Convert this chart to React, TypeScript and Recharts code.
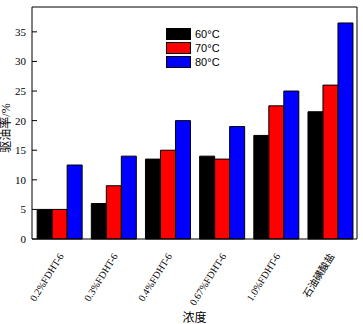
import { Bar, BarChart, Label, XAxis, YAxis } from "recharts";

// concentrations on the x axis
const categories = [
  "0.2%FDHT-6",
  "0.3%FDHT-6",
  "0.4%FDHT-6",
  "0.67%FDHT-6",
  "1.0%FDHT-6",
  "石油磺酸盐",
];
const temp60 = [5, 6, 13.5, 14, 17.5, 21.5];
const temp70 = [5, 9, 15, 13.5, 22.5, 26];
const temp80 = [12.5, 14, 20, 19, 25, 36.5];
const yTicks = [0, 5, 10, 15, 20, 25, 30, 35];

const series = [
  { key: "t60", name: "60°C", color: "#000000" },
  { key: "t70", name: "70°C", color: "#ff0000" },
  { key: "t80", name: "80°C", color: "#0000ff" },
];

const data = categories.map((name, i) => ({
  name,
  t60: temp60[i],
  t70: temp70[i],
  t80: temp80[i],
}));

const FONT = "'Liberation Serif', 'Noto Sans CJK SC', serif";

function YTick(props: any) {
  const { x, y, payload } = props;
  return (
    <g>
      <line x1={x + 5} x2={x + 10} y1={y} y2={y} stroke="#000" />
      <text
        x={x - 1}
        y={y}
        dy={4}
        textAnchor="end"
        fontSize={11}
        fontFamily={FONT}
        fill="#000"
      >
        {payload.value}
      </text>
    </g>
  );
}

function XTick(props: any) {
  const { x, y, payload } = props;
  return (
    <text
      x={x + 5}
      y={y + 9}
      textAnchor="end"
      fontSize={10}
      fontFamily={FONT}
      fill="#000"
      transform={`rotate(-58 ${x + 5} ${y + 9})`}
    >
      {payload.value}
    </text>
  );
}

function YLabel(props: any) {
  const { viewBox } = props;
  const cx = 10;
  const cy = viewBox.y + viewBox.height / 2 + 5;
  return (
    <text
      x={cx}
      y={cy}
      textAnchor="middle"
      fontSize={12}
      fontFamily={FONT}
      fill="#000"
      transform={`rotate(-90 ${cx} ${cy})`}
    >
      驱油率/%
    </text>
  );
}

function LegendBox() {
  return (
    <div
      style={{
        position: "absolute",
        left: 166,
        top: 27,
        fontFamily: "'Liberation Sans', sans-serif",
        fontSize: 11,
      }}
    >
      {series.map((s) => (
        <div
          key={s.key}
          style={{ display: "flex", alignItems: "center", height: 14 }}
        >
          <span
            style={{
              width: 23,
              height: 10,
              background: s.color,
              border: "1px solid #000",
              marginRight: 4,
            }}
          />
          <span>{s.name}</span>
        </div>
      ))}
    </div>
  );
}

export default function App() {
  return (
    <div style={{ position: "absolute", left: 0, top: 0, background: "#fff" }}>
      <BarChart
        width={363}
        height={324}
        data={data}
        margin={{ top: 6, right: 5, left: 0, bottom: 0 }}
        barCategoryGap="9.5%"
        barGap={0}
      >
        <XAxis
          dataKey="name"
          xAxisId="main"
          height={85}
          interval={0}
          tickLine={false}
          axisLine={{ stroke: "#000" }}
          tick={<XTick />}
        >
          <Label
            value="浓度"
            position="insideBottom"
            offset={2}
            style={{ fontSize: 12, fontFamily: FONT, fill: "#000" }}
          />
        </XAxis>
        <XAxis
          xAxisId="top"
          dataKey="name"
          orientation="top"
          height={1}
          tick={false}
          tickLine={false}
          axisLine={{ stroke: "#000" }}
        />
        <YAxis
          yAxisId="main"
          width={32}
          domain={[0, 39.2]}
          ticks={yTicks}
          tickSize={0}
          tickMargin={5}
          axisLine={{ stroke: "#000" }}
          tick={<YTick />}
        >
          <Label content={<YLabel />} />
        </YAxis>
        <YAxis
          yAxisId="right"
          orientation="right"
          width={1}
          domain={[0, 39.2]}
          tick={false}
          tickLine={false}
          axisLine={{ stroke: "#000" }}
        />
        {series.map((s) => (
          <Bar
            key={s.key}
            dataKey={s.key}
            name={s.name}
            xAxisId="main"
            yAxisId="main"
            fill={s.color}
            stroke="#000"
            strokeWidth={1}
            isAnimationActive={false}
          />
        ))}
      </BarChart>
      <LegendBox />
    </div>
  );
}
